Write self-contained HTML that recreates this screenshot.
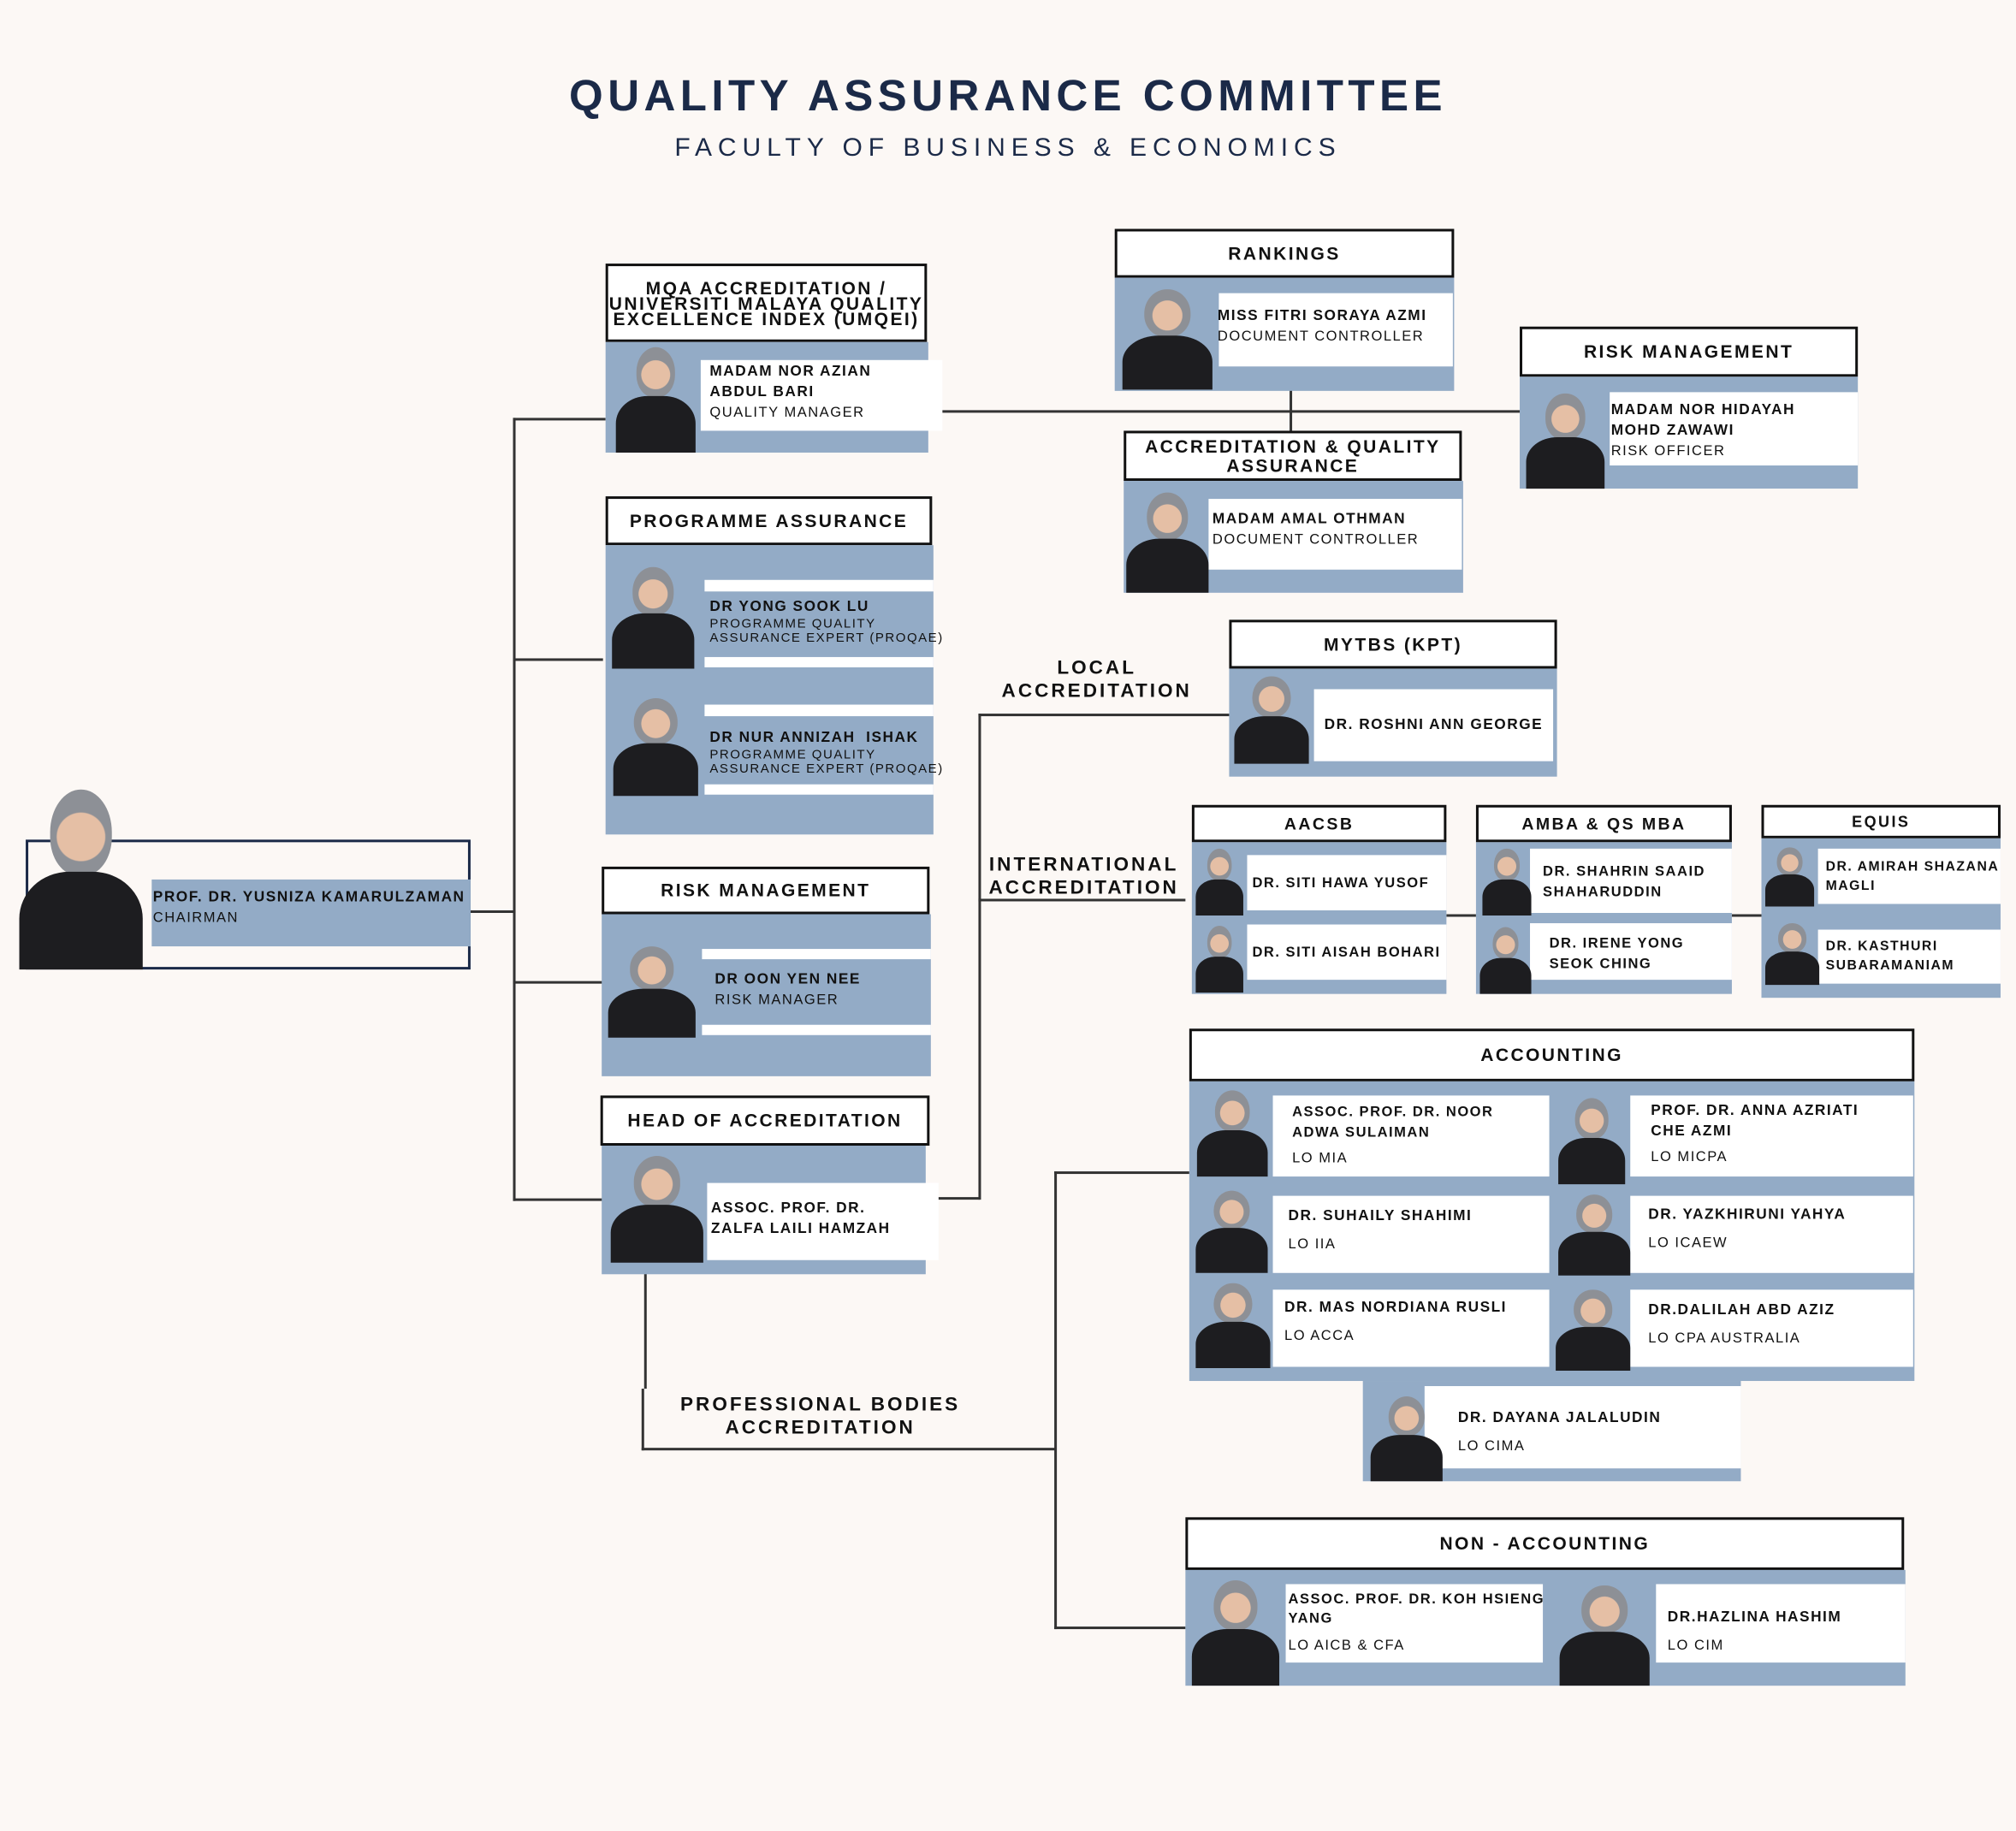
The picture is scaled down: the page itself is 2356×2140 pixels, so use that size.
<!DOCTYPE html>
<html><head><meta charset="utf-8">
<style>
html,body{margin:0;padding:0;background:#fcf8f5;}
body{width:2356px;height:2140px;overflow:hidden;}
#s{position:absolute;left:0;top:0;width:1568px;height:1424px;transform:scale(1.50255,1.50281);transform-origin:0 0;font-family:"Liberation Sans",sans-serif;color:#111;}
#s div{position:absolute;box-sizing:border-box;}
.h{background:#fff;border:2px solid #111;display:flex;align-items:center;justify-content:center;text-align:center;font-weight:bold;font-size:14px;letter-spacing:1.6px;line-height:13px;}
.b{background:#93abc6;}
.w{background:#fff;}
.t{font-size:11.5px;font-weight:bold;letter-spacing:1px;line-height:16px;white-space:nowrap;}
.t span{font-weight:normal;font-size:11px;display:block;letter-spacing:1px;}
.ph{overflow:hidden;}
.ph::before{content:"";position:absolute;left:28%;top:8%;width:44%;height:44%;border-radius:50% 50% 45% 45%;background:radial-gradient(circle at 50% 55%,#e5bfa5 0 42%,#8d9096 44%);}
.ph::after{content:"";position:absolute;left:6%;top:50%;width:88%;height:60%;border-radius:40% 40% 0 0;background:#1d1d20;}
.l{background:#333;}
.lab{font-size:15px;font-weight:bold;letter-spacing:2px;text-align:center;line-height:18px;white-space:nowrap;}
</style></head><body><div id="s">

<div style="left:0;top:56px;width:1568px;text-align:center;font-size:34px;font-weight:900;letter-spacing:3.6px;color:#1b2a48;">QUALITY ASSURANCE COMMITTEE</div>
<div style="left:0;top:104px;width:1568px;text-align:center;font-size:20px;letter-spacing:4.6px;color:#1b2a48;">FACULTY OF BUSINESS &amp; ECONOMICS</div>

<!-- connectors -->
<div class="l" style="left:366px;top:708px;width:35px;height:2px"></div>
<div class="l" style="left:399px;top:325px;width:2px;height:609px"></div>
<div class="l" style="left:399px;top:325px;width:72px;height:2px"></div>
<div class="l" style="left:399px;top:512px;width:70px;height:2px"></div>
<div class="l" style="left:399px;top:763px;width:70px;height:2px"></div>
<div class="l" style="left:399px;top:932px;width:70px;height:2px"></div>
<div class="l" style="left:720px;top:319px;width:462px;height:2px"></div>
<div class="l" style="left:1003px;top:303px;width:2px;height:33px"></div>
<div class="l" style="left:716px;top:931px;width:46px;height:2px"></div>
<div class="l" style="left:761px;top:555px;width:2px;height:378px"></div>
<div class="l" style="left:761px;top:555px;width:195px;height:2px"></div>
<div class="l" style="left:761px;top:699px;width:161px;height:2px"></div>
<div class="l" style="left:1125px;top:711px;width:23px;height:2px"></div>
<div class="l" style="left:1347px;top:711px;width:23px;height:2px"></div>
<div class="l" style="left:501px;top:990px;width:2px;height:90px"></div>
<div class="l" style="left:499px;top:1080px;width:2px;height:48px"></div>
<div class="l" style="left:499px;top:1126px;width:322px;height:2px"></div>
<div class="l" style="left:820px;top:911px;width:2px;height:356px"></div>
<div class="l" style="left:820px;top:911px;width:105px;height:2px"></div>
<div class="l" style="left:820px;top:1265px;width:102px;height:2px"></div>

<div class="lab" style="left:763px;top:511px;width:180px;">LOCAL<br>ACCREDITATION</div>
<div class="lab" style="left:753px;top:664px;width:180px;">INTERNATIONAL<br>ACCREDITATION</div>
<div class="lab" style="left:528px;top:1084px;width:220px;">PROFESSIONAL BODIES<br>ACCREDITATION</div>

<!-- chairman -->
<div style="left:20px;top:653px;width:346px;height:101px;border:2px solid #1b2a48;background:#fcf8f5"></div>
<div class="b" style="left:118px;top:684px;width:248px;height:52px"></div>
<div class="t" style="left:119px;top:690px;">PROF. DR. YUSNIZA KAMARULZAMAN<span>CHAIRMAN</span></div>
<div class="ph" style="left:8px;top:602px;width:110px;height:152px"></div>

<!-- MQA -->
<div class="h" style="left:471px;top:205px;width:250px;height:61px;font-size:14px;line-height:12px;">MQA ACCREDITATION /<br>UNIVERSITI MALAYA QUALITY<br>EXCELLENCE INDEX (UMQEI)</div>
<div class="b" style="left:471px;top:266px;width:251px;height:86px"></div>
<div class="w" style="left:545px;top:280px;width:188px;height:55px"></div>
<div class="t" style="left:552px;top:281px;">MADAM NOR AZIAN<br>ABDUL BARI<span>QUALITY MANAGER</span></div>
<div class="ph" style="left:475px;top:263px;width:70px;height:89px"></div>

<!-- Programme assurance -->
<div class="h" style="left:471px;top:386px;width:254px;height:38px;">PROGRAMME ASSURANCE</div>
<div class="b" style="left:471px;top:424px;width:255px;height:225px"></div>
<div class="w" style="left:548px;top:451px;width:178px;height:9px"></div>
<div class="w" style="left:548px;top:511px;width:178px;height:8px"></div>
<div class="w" style="left:548px;top:548px;width:178px;height:9px"></div>
<div class="w" style="left:548px;top:610px;width:178px;height:8px"></div>
<div class="t" style="left:552px;top:464px;">DR YONG SOOK LU<span style="font-size:10px;line-height:11px">PROGRAMME QUALITY<br>ASSURANCE EXPERT (PROQAE)</span></div>
<div class="t" style="left:552px;top:566px;">DR NUR ANNIZAH &nbsp;ISHAK<span style="font-size:10px;line-height:11px">PROGRAMME QUALITY<br>ASSURANCE EXPERT (PROQAE)</span></div>
<div class="ph" style="left:472px;top:434px;width:72px;height:86px"></div>
<div class="ph" style="left:472px;top:536px;width:76px;height:83px"></div>

<!-- Risk mgmt left -->
<div class="h" style="left:468px;top:674px;width:255px;height:37px;">RISK MANAGEMENT</div>
<div class="b" style="left:468px;top:711px;width:256px;height:126px"></div>
<div class="w" style="left:546px;top:738px;width:178px;height:8px"></div>
<div class="w" style="left:546px;top:797px;width:178px;height:8px"></div>
<div class="t" style="left:556px;top:754px;">DR OON YEN NEE<span>RISK MANAGER</span></div>
<div class="ph" style="left:468px;top:730px;width:78px;height:77px"></div>

<!-- Head of accreditation -->
<div class="h" style="left:467px;top:852px;width:256px;height:39px;">HEAD OF ACCREDITATION</div>
<div class="b" style="left:468px;top:891px;width:252px;height:100px"></div>
<div class="w" style="left:550px;top:920px;width:180px;height:60px"></div>
<div class="t" style="left:553px;top:932px;">ASSOC. PROF. DR.<br>ZALFA LAILI HAMZAH</div>
<div class="ph" style="left:470px;top:892px;width:82px;height:90px"></div>

<!-- Rankings -->
<div class="h" style="left:867px;top:178px;width:264px;height:38px;">RANKINGS</div>
<div class="b" style="left:867px;top:216px;width:264px;height:88px"></div>
<div class="w" style="left:948px;top:228px;width:182px;height:57px"></div>
<div class="t" style="left:947px;top:238px;">MISS FITRI SORAYA AZMI<span>DOCUMENT CONTROLLER</span></div>
<div class="ph" style="left:868px;top:218px;width:80px;height:85px"></div>

<!-- Accreditation & QA -->
<div class="h" style="left:874px;top:335px;width:263px;height:39px;line-height:15px;">ACCREDITATION &amp; QUALITY<br>ASSURANCE</div>
<div class="b" style="left:874px;top:374px;width:264px;height:87px"></div>
<div class="w" style="left:940px;top:388px;width:197px;height:55px"></div>
<div class="t" style="left:943px;top:396px;">MADAM AMAL OTHMAN<span>DOCUMENT CONTROLLER</span></div>
<div class="ph" style="left:872px;top:376px;width:72px;height:85px"></div>

<!-- Risk mgmt right -->
<div class="h" style="left:1182px;top:254px;width:263px;height:39px;">RISK MANAGEMENT</div>
<div class="b" style="left:1182px;top:293px;width:263px;height:87px"></div>
<div class="w" style="left:1252px;top:305px;width:193px;height:57px"></div>
<div class="t" style="left:1253px;top:311px;">MADAM NOR HIDAYAH<br>MOHD ZAWAWI<span>RISK OFFICER</span></div>
<div class="ph" style="left:1183px;top:300px;width:69px;height:80px"></div>

<!-- MYTBS -->
<div class="h" style="left:956px;top:482px;width:255px;height:38px;">MYTBS (KPT)</div>
<div class="b" style="left:956px;top:520px;width:255px;height:84px"></div>
<div class="w" style="left:1022px;top:536px;width:186px;height:56px"></div>
<div class="t" style="left:1030px;top:556px;">DR. ROSHNI ANN GEORGE</div>
<div class="ph" style="left:956px;top:520px;width:66px;height:74px"></div>

<!-- AACSB -->
<div class="h" style="left:927px;top:626px;width:198px;height:29px;font-size:13px;">AACSB</div>
<div class="b" style="left:927px;top:655px;width:198px;height:118px"></div>
<div class="w" style="left:970px;top:665px;width:155px;height:43px"></div>
<div class="w" style="left:970px;top:719px;width:155px;height:43px"></div>
<div class="t" style="left:974px;top:679px;font-size:11px;">DR. SITI HAWA YUSOF</div>
<div class="t" style="left:974px;top:733px;font-size:11px;">DR. SITI AISAH BOHARI</div>
<div class="ph" style="left:927px;top:656px;width:43px;height:56px"></div>
<div class="ph" style="left:927px;top:716px;width:43px;height:56px"></div>

<!-- AMBA -->
<div class="h" style="left:1148px;top:626px;width:199px;height:29px;font-size:13px;">AMBA &amp; QS MBA</div>
<div class="b" style="left:1148px;top:655px;width:199px;height:118px"></div>
<div class="w" style="left:1190px;top:660px;width:157px;height:50px"></div>
<div class="w" style="left:1190px;top:718px;width:157px;height:44px"></div>
<div class="t" style="left:1200px;top:670px;font-size:11px;">DR. SHAHRIN SAAID<br>SHAHARUDDIN</div>
<div class="t" style="left:1205px;top:726px;font-size:11px;">DR. IRENE YONG<br>SEOK CHING</div>
<div class="ph" style="left:1150px;top:656px;width:44px;height:56px"></div>
<div class="ph" style="left:1148px;top:716px;width:46px;height:57px"></div>

<!-- EQUIS -->
<div class="h" style="left:1370px;top:626px;width:186px;height:26px;font-size:12px;">EQUIS</div>
<div class="b" style="left:1370px;top:652px;width:186px;height:124px"></div>
<div class="w" style="left:1414px;top:660px;width:142px;height:43px"></div>
<div class="w" style="left:1414px;top:723px;width:142px;height:42px"></div>
<div class="t" style="left:1420px;top:667px;font-size:10.5px;line-height:15px;">DR. AMIRAH SHAZANA<br>MAGLI</div>
<div class="t" style="left:1420px;top:729px;font-size:10.5px;line-height:15px;">DR. KASTHURI<br>SUBARAMANIAM</div>
<div class="ph" style="left:1370px;top:655px;width:44px;height:50px"></div>
<div class="ph" style="left:1370px;top:714px;width:48px;height:52px"></div>

<!-- Accounting -->
<div class="h" style="left:925px;top:800px;width:564px;height:41px;">ACCOUNTING</div>
<div class="b" style="left:925px;top:841px;width:564px;height:233px"></div>
<div class="w" style="left:990px;top:852px;width:215px;height:63px"></div>
<div class="w" style="left:1268px;top:852px;width:220px;height:63px"></div>
<div class="w" style="left:990px;top:930px;width:215px;height:60px"></div>
<div class="w" style="left:1268px;top:930px;width:220px;height:60px"></div>
<div class="w" style="left:990px;top:1003px;width:215px;height:60px"></div>
<div class="w" style="left:1268px;top:1003px;width:220px;height:60px"></div>
<div class="t" style="left:1005px;top:857px;font-size:11px;">ASSOC. PROF. DR. NOOR<br>ADWA SULAIMAN<span style="margin-top:4px">LO MIA</span></div>
<div class="t" style="left:1284px;top:856px;font-size:11.5px;">PROF. DR. ANNA AZRIATI<br>CHE AZMI<span style="margin-top:4px">LO MICPA</span></div>
<div class="t" style="left:1002px;top:938px;">DR. SUHAILY SHAHIMI<span style="margin-top:6px">LO IIA</span></div>
<div class="t" style="left:1282px;top:937px;">DR. YAZKHIRUNI YAHYA<span style="margin-top:6px">LO ICAEW</span></div>
<div class="t" style="left:999px;top:1009px;">DR. MAS NORDIANA RUSLI<span style="margin-top:6px">LO ACCA</span></div>
<div class="t" style="left:1282px;top:1011px;">DR.DALILAH ABD AZIZ<span style="margin-top:6px">LO CPA AUSTRALIA</span></div>
<div class="ph" style="left:927px;top:842px;width:63px;height:73px"></div>
<div class="ph" style="left:1208px;top:848px;width:60px;height:73px"></div>
<div class="ph" style="left:926px;top:920px;width:64px;height:70px"></div>
<div class="ph" style="left:1208px;top:924px;width:64px;height:68px"></div>
<div class="ph" style="left:926px;top:992px;width:66px;height:72px"></div>
<div class="ph" style="left:1206px;top:998px;width:66px;height:68px"></div>
<div class="b" style="left:1060px;top:1074px;width:294px;height:78px"></div>
<div class="w" style="left:1108px;top:1078px;width:246px;height:64px"></div>
<div class="t" style="left:1134px;top:1095px;">DR. DAYANA JALALUDIN<span style="margin-top:6px">LO CIMA</span></div>
<div class="ph" style="left:1062px;top:1080px;width:64px;height:72px"></div>

<!-- Non-accounting -->
<div class="h" style="left:922px;top:1180px;width:559px;height:41px;">NON - ACCOUNTING</div>
<div class="b" style="left:922px;top:1221px;width:560px;height:90px"></div>
<div class="w" style="left:1000px;top:1232px;width:200px;height:61px"></div>
<div class="w" style="left:1288px;top:1232px;width:194px;height:61px"></div>
<div class="t" style="left:1002px;top:1237px;font-size:11px;line-height:15px;">ASSOC. PROF. DR. KOH HSIENG<br>YANG<span style="margin-top:6px">LO AICB &amp; CFA</span></div>
<div class="t" style="left:1297px;top:1250px;">DR.HAZLINA HASHIM<span style="margin-top:6px">LO CIM</span></div>
<div class="ph" style="left:922px;top:1222px;width:78px;height:89px"></div>
<div class="ph" style="left:1208px;top:1226px;width:80px;height:85px"></div>

</div></body></html>
